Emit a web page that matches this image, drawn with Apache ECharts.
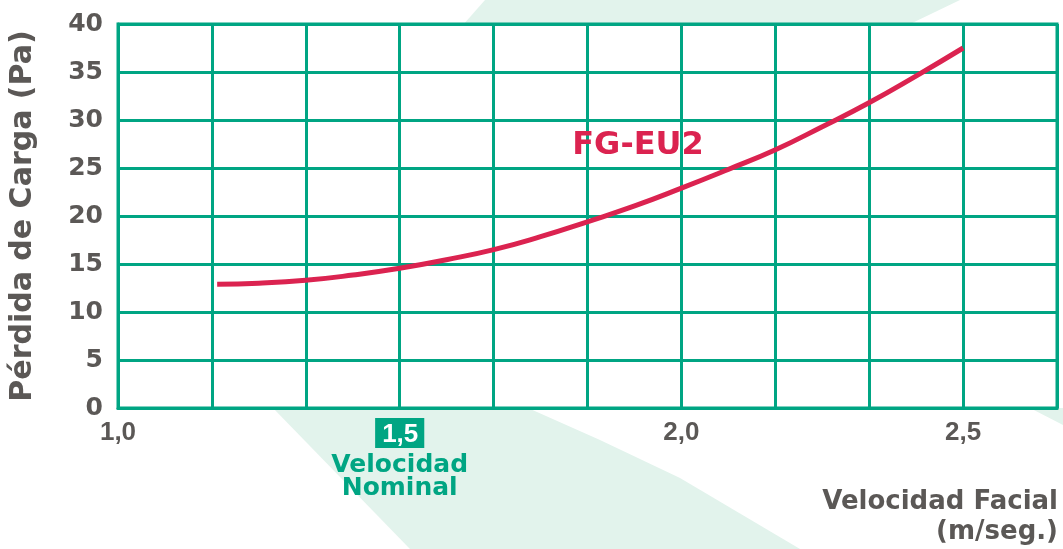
<!DOCTYPE html>
<html>
<head>
<meta charset="utf-8">
<script src="https://cdn.jsdelivr.net/npm/echarts@6/dist/echarts.min.js"></script>
<style>
html,body{margin:0;padding:0;background:#fff;}
#c{width:1063px;height:549px;}
</style>
</head>
<body>
<div id="c"></div>
<script>
// ---- data ----
const velocity = [1.176, 1.25, 1.333, 1.417, 1.5, 1.583, 1.667, 1.75, 1.833, 1.917, 2.0, 2.083, 2.167, 2.25, 2.333, 2.417, 2.5];
const pressureLoss = [12.9, 13.0, 13.3, 13.85, 14.55, 15.45, 16.5, 17.85, 19.4, 21.05, 22.9, 24.85, 26.9, 29.3, 31.8, 34.6, 37.5];
const seriesName = 'FG-EU2';
const seriesLabelAt = [1.923, 27.3];
const xTickValues = [1.0, 1.5, 2.0, 2.5];
const xTickLabels = ['1,0', '1,5', '2,0', '2,5'];
const nominalValue = 1.5;
const yTicks = [0, 5, 10, 15, 20, 25, 30, 35, 40];
const yAxisTitle = 'Pérdida de Carga (Pa)';
const xAxisTitle = 'Velocidad Facial\n(m/seg.)';
const nominalText = ['Velocidad', 'Nominal'];

const GREEN = '#00a583';
const LIGHT = '#e2f3ec';
const GREY = '#5b5856';
const RED = '#db2350';
const SANS = '"Liberation Sans", Arial, sans-serif';
const WIDE = '"DejaVu Sans", Verdana, sans-serif';

const chart = echarts.init(document.getElementById('c'), null, {renderer: 'canvas'});

function xLabel(v) {
  for (let i = 0; i < xTickValues.length; i++) {
    if (Math.abs(v - xTickValues[i]) < 1e-6) {
      if (Math.abs(v - nominalValue) < 1e-6) {
        return '{box|' + xTickLabels[i] + '}\n{sp| }\n{nom|' + nominalText[0] + '}\n{nom|' + nominalText[1] + '}';
      }
      return xTickLabels[i];
    }
  }
  return '';
}

const option = {
  backgroundColor: '#fff',
  animation: false,
  graphic: [
    {type: 'polygon', z: -10, shape: {points: [[485,0],[960,0],[856,50],[441,50]]}, style: {fill: LIGHT}},
    {type: 'polygon', z: -10, shape: {points: [[273,408],[528,408],[600,440],[680,478],[800,549],[410,549]]}, style: {fill: LIGHT}},
    {type: 'polygon', z: -10, shape: {points: [[1030,408],[1063,408],[1063,425]]}, style: {fill: LIGHT}},
    {type: 'text', z: 10, x: 1058, y: 487, style: {
      text: xAxisTitle, align: 'right', verticalAlign: 'top',
      font: 'bold 26px "DejaVu Sans", Verdana, sans-serif', lineHeight: 30, fill: GREY
    }}
  ],
  grid: {
    left: 115.5, right: 6, top: 24, bottom: 141,
    show: true, backgroundColor: '#fff', borderColor: GREEN, borderWidth: 3
  },
  xAxis: {
    type: 'value',
    min: 1, max: 1 + 10 / 6, interval: 1 / 6,
    axisLine: {show: true, lineStyle: {color: GREEN, width: 3}},
    axisTick: {show: false},
    splitLine: {show: true, lineStyle: {color: GREEN, width: 3}},
    axisLabel: {
      margin: 12,
      fontFamily: SANS, fontWeight: 'bold', fontSize: 26, color: GREY,
      showMaxLabel: true, showMinLabel: true,
      formatter: xLabel,
      rich: {
        box: {backgroundColor: GREEN, color: '#fff', fontFamily: SANS, fontWeight: 'bold', fontSize: 26, padding: [4, 6, 0, 7], lineHeight: 26},
        sp: {fontSize: 2, lineHeight: 8},
        nom: {color: GREEN, fontFamily: WIDE, fontWeight: 'bold', fontSize: 25, lineHeight: 23}
      }
    }
  },
  yAxis: {
    type: 'value',
    min: yTicks[0], max: yTicks[yTicks.length - 1], interval: yTicks[1] - yTicks[0],
    name: yAxisTitle,
    nameLocation: 'middle',
    nameGap: 80,
    nameRotate: 90,
    nameTextStyle: {fontFamily: WIDE, fontWeight: 'bold', fontSize: 30, color: GREY},
    axisLine: {show: true, lineStyle: {color: GREEN, width: 3}},
    axisTick: {show: false},
    splitLine: {show: true, lineStyle: {color: GREEN, width: 3}},
    axisLabel: {margin: 15, fontFamily: WIDE, fontWeight: 'bold', fontSize: 25, color: GREY}
  },
  series: [{
    name: seriesName,
    type: 'line',
    smooth: true,
    symbol: 'none',
    z: 5,
    lineStyle: {color: RED, width: 5},
    data: velocity.map((v, i) => [v, pressureLoss[i]]),
    markPoint: {
      symbol: 'circle', symbolSize: 0,
      data: [{coord: seriesLabelAt, value: seriesName}],
      label: {show: true, position: 'inside', formatter: seriesName, color: RED, fontFamily: WIDE, fontWeight: 'bold', fontSize: 32}
    }
  }]
};
chart.setOption(option);
</script>
</body>
</html>
